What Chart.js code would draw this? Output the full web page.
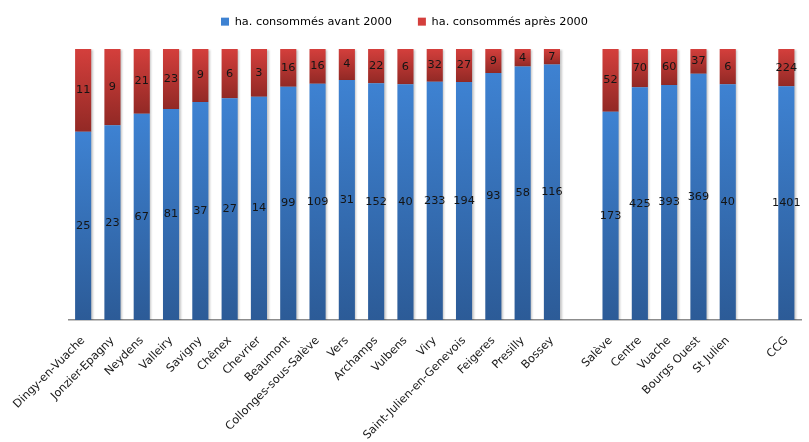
<!DOCTYPE html>
<html>
<head>
<meta charset="utf-8">
<script src="https://cdn.jsdelivr.net/npm/chart.js@4.4.0/dist/chart.umd.min.js"></script>
<style>
  html, body { margin: 0; padding: 0; background: #ffffff; }
  #wrap { width: 809px; height: 442px; position: relative; }
</style>
</head>
<body>
<div id="wrap"><canvas id="chart" width="809" height="442"></canvas></div>
<script>
// Communes, then sector groupings, then the whole community (blank slots separate the groups)
const categories = [
  'Dingy-en-Vuache', 'Jonzier-Epagny', 'Neydens', 'Valleiry', 'Savigny', 'Chênex',
  'Chevrier', 'Beaumont', 'Collonges-sous-Salève', 'Vers', 'Archamps', 'Vulbens',
  'Viry', 'Saint-Julien-en-Genevois', 'Feigeres', 'Presilly', 'Bossey', '',
  'Salève', 'Centre', 'Vuache', 'Bourgs Ouest', 'St Julien', '', 'CCG'
];

// Hectares consumed before / after 2000
const avant2000 = [25, 23, 67, 81, 37, 27, 14, 99, 109, 31, 152, 40, 233, 194, 93, 58, 116, null,
                   173, 425, 393, 369, 40, null, 1401];
const apres2000 = [11, 9, 21, 23, 9, 6, 3, 16, 16, 4, 22, 6, 32, 27, 9, 4, 7, null,
                   52, 70, 60, 37, 6, null, 224];

const seriesNames = ['ha. consommés avant 2000', 'ha. consommés après 2000'];

// Share of each total, for the 100 % stacked columns
function share(part, i) {
  const a = avant2000[i], b = apres2000[i];
  if (a == null || b == null) return null;
  return part / (a + b) * 100;
}
const avantPct = avant2000.map((v, i) => share(v, i));
const apresPct = apres2000.map((v, i) => share(v, i));

const BLUE_TOP = '#3e82d2', BLUE_BOTTOM = '#2c5b97';
const RED_TOP = '#d43f3c', RED_BOTTOM = '#922925';

// Vertical gradient running over one stacked segment
function segmentGradient(topColor, bottomColor, lowerOf) {
  return function (ctx) {
    const chart = ctx.chart;
    const y = chart.scales && chart.scales.y;
    if (ctx.type !== 'data' || !y || !chart.chartArea) return topColor;
    const i = ctx.dataIndex;
    const lo = lowerOf(i);
    const hi = lo + (ctx.raw || 0);
    const y0 = y.getPixelForValue(hi);
    const y1 = y.getPixelForValue(lo);
    if (!isFinite(y0) || !isFinite(y1) || y0 === y1) return topColor;
    const g = chart.ctx.createLinearGradient(0, y0, 0, y1);
    g.addColorStop(0, topColor);
    g.addColorStop(1, bottomColor);
    return g;
  };
}

const FONT = "'DejaVu Sans', 'Open Sans', sans-serif";

// Raw hectare values written in the middle of each segment
const valueLabels = {
  id: 'valueLabels',
  afterDatasetsDraw(chart) {
    const ctx = chart.ctx;
    const raws = [avant2000, apres2000];
    ctx.save();
    ctx.font = '11.3px ' + FONT;
    ctx.fillStyle = '#141414';
    ctx.textAlign = 'center';
    ctx.textBaseline = 'middle';
    chart.data.datasets.forEach((ds, d) => {
      const meta = chart.getDatasetMeta(d);
      meta.data.forEach((el, i) => {
        const v = raws[d][i];
        if (v == null) return;
        ctx.fillText(String(v), el.x, (el.y + el.base) / 2);
      });
    });
    ctx.restore();
  }
};

// Soft drop shadow behind the columns
const columnShadow = {
  id: 'columnShadow',
  beforeDatasetsDraw(chart) {
    const ctx = chart.ctx;
    ctx.save();
    ctx.shadowColor = 'rgba(0,0,0,0.22)';
    ctx.shadowOffsetX = 1.5;
    ctx.shadowOffsetY = 1;
    ctx.shadowBlur = 2;
  },
  afterDatasetsDraw(chart) {
    chart.ctx.restore();
  }
};

// Extra room between the legend and the plot
const legendGap = {
  id: 'legendGap',
  beforeInit(chart) {
    const legend = chart.legend;
    if (!legend) return;
    const fit = legend.fit;
    legend.fit = function () {
      fit.call(this);
      this.height += 11.7;
    };
  }
};

new Chart(document.getElementById('chart'), {
  type: 'bar',
  data: {
    labels: categories,
    datasets: [
      {
        label: seriesNames[0],
        data: avantPct,
        backgroundColor: segmentGradient(BLUE_TOP, BLUE_BOTTOM, () => 0),
        borderWidth: 0,
        barPercentage: 0.55,
        categoryPercentage: 1.0
      },
      {
        label: seriesNames[1],
        data: apresPct,
        backgroundColor: segmentGradient(RED_TOP, RED_BOTTOM, i => avantPct[i] || 0),
        borderWidth: 0,
        barPercentage: 0.55,
        categoryPercentage: 1.0
      }
    ]
  },
  options: {
    responsive: false,
    animation: false,
    devicePixelRatio: 1,
    layout: { padding: { left: 8, right: 8, top: -10, bottom: 0 } },
    plugins: {
      legend: {
        position: 'top',
        align: 'center',
        labels: {
          font: { family: FONT, size: 11.3 },
          color: '#1a1a1a',
          boxWidth: 8,
          boxHeight: 8,
          padding: 26,
          generateLabels() {
            return [
              { text: seriesNames[0], fillStyle: BLUE_TOP, strokeStyle: BLUE_TOP, lineWidth: 0, datasetIndex: 0 },
              { text: seriesNames[1], fillStyle: RED_TOP, strokeStyle: RED_TOP, lineWidth: 0, datasetIndex: 1 }
            ];
          }
        }
      },
      tooltip: { enabled: false }
    },
    scales: {
      x: {
        stacked: true,
        grid: { display: false, drawTicks: false },
        border: { display: true, color: '#8c8c8c', width: 1.5 },
        ticks: {
          autoSkip: false,
          maxRotation: 45,
          minRotation: 45,
          padding: 14,
          color: '#1a1a1a',
          font: { family: FONT, size: 11.3 }
        },
        afterFit(scale) {
          scale.height = 122;
          scale.paddingLeft = 68.5;
          scale.paddingRight = 8;
        }
      },
      y: {
        stacked: true,
        display: false,
        min: 0,
        max: 100
      }
    }
  },
  plugins: [legendGap, columnShadow, valueLabels]
});
</script>
</body>
</html>
